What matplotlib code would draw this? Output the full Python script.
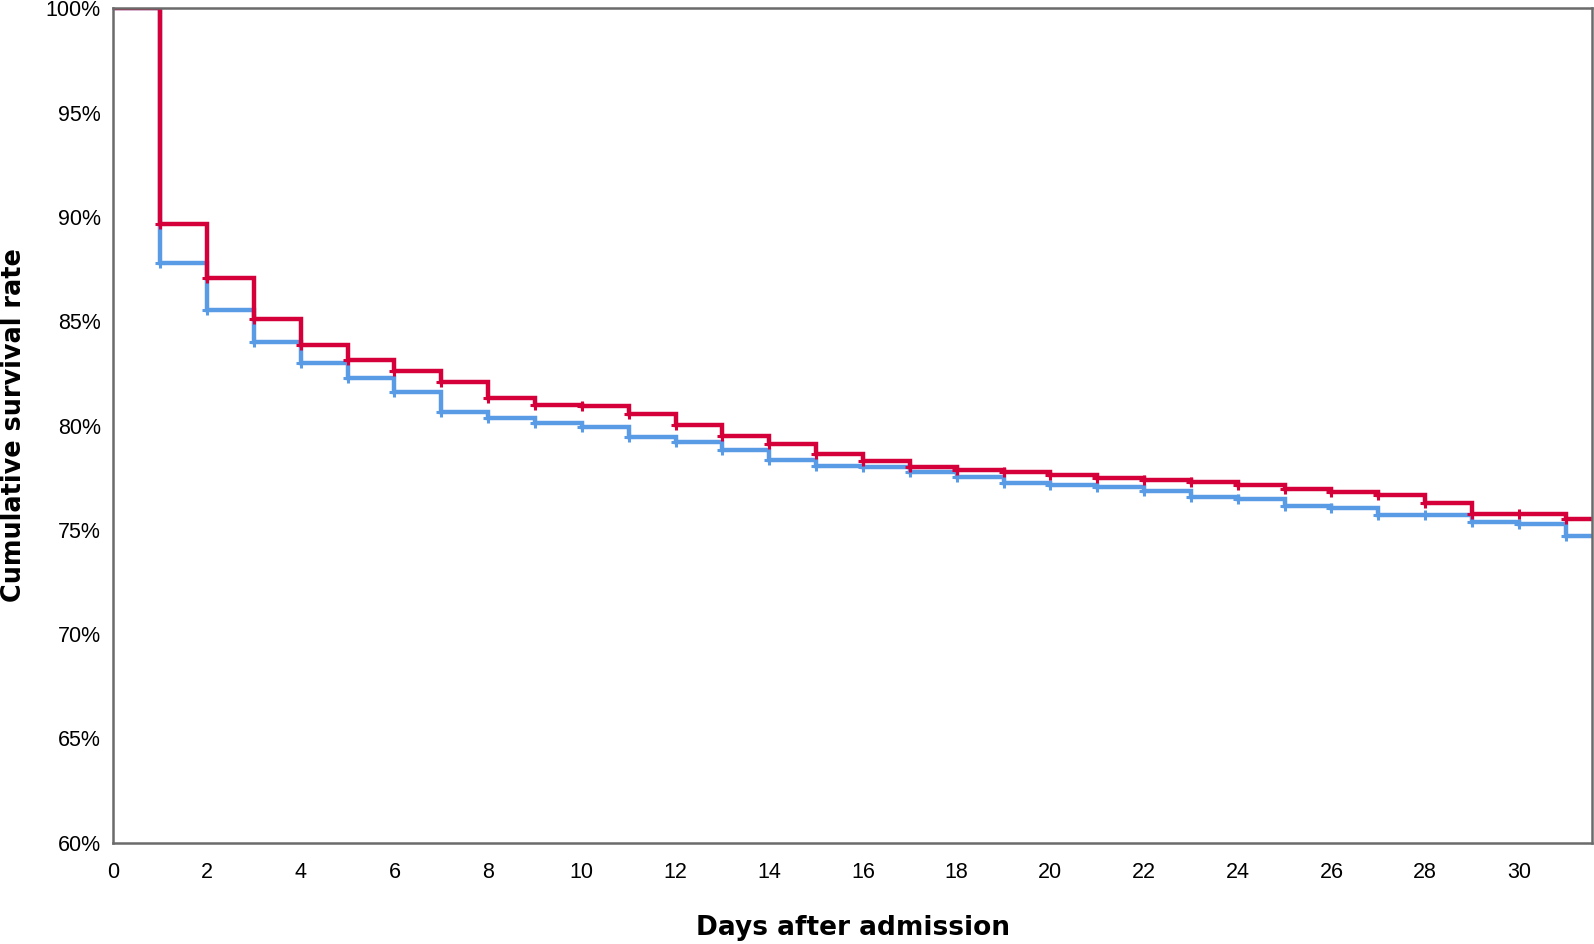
import matplotlib
matplotlib.use("Agg")
import matplotlib.pyplot as plt
from matplotlib.ticker import FuncFormatter

plt.rcParams['font.family'] = ['Liberation Sans', 'DejaVu Sans']

# Data (Kaplan-Meier cumulative survival, %)
days = list(range(0, 32))
survival_red = [100, 89.66, 87.05, 85.10, 83.86, 83.14, 82.61, 82.10, 81.30, 80.98,
                80.92, 80.56, 80.02, 79.50, 79.10, 78.63, 78.28, 78.01, 77.88, 77.79,
                77.61, 77.47, 77.39, 77.28, 77.14, 76.95, 76.83, 76.67, 76.30, 75.78,
                75.77, 75.53]
survival_blue = [100, 87.78, 85.54, 84.02, 82.98, 82.29, 81.62, 80.66, 80.36, 80.13,
                 79.92, 79.43, 79.20, 78.83, 78.37, 78.08, 78.01, 77.76, 77.52, 77.23,
                 77.17, 77.07, 76.88, 76.58, 76.50, 76.14, 76.03, 75.70, 75.70, 75.37,
                 75.29, 74.72]
x_ticks = list(range(0, 31, 2))
y_ticks = [60, 65, 70, 75, 80, 85, 90, 95, 100]

X_MAX = 31.56
RED = '#d5003a'
BLUE = '#5a9be6'

W, H = 1594, 944
fig = plt.figure(figsize=(W / 100, H / 100), dpi=100)
ax = fig.add_axes([113.3 / W, 1 - 842.7 / H, (1592 - 113.3) / W, (842.7 - 8.3) / H])

for vals, col in [(survival_blue, BLUE), (survival_red, RED)]:
    ax.step(days + [X_MAX], vals + [vals[-1]], where='post', color=col, lw=3.2,
            solid_joinstyle='miter', zorder=3)
    ax.plot(days[1:], vals[1:], linestyle='none', marker='+', markersize=7,
            markeredgewidth=2.2, color=col, zorder=4)

ax.set_xlim(0, X_MAX)
ax.set_ylim(60, 100)
ax.set_xticks(x_ticks)
ax.set_yticks(y_ticks)
ax.yaxis.set_major_formatter(FuncFormatter(lambda v, p: f"{int(v)}%"))
ax.tick_params(axis='both', length=0, labelsize=15.5, colors='black')
ax.tick_params(axis='y', pad=9)
ax.tick_params(axis='x', pad=14)

for side in ['left', 'bottom', 'top', 'right']:
    ax.spines[side].set_color('#6b6b6b')
    ax.spines[side].set_linewidth(1.8)
    ax.spines[side].set_zorder(5)

fig.text(852.6 / W, 1 - 935 / H, 'Days after admission', fontsize=19, fontweight='bold',
         family=['DejaVu Sans'], ha='center', va='baseline')
fig.text(14 / W, 1 - 425.5 / H, 'Cumulative survival rate', fontsize=18.4, fontweight='bold',
         family=['DejaVu Sans'], ha='center', va='center', rotation=90)

fig.savefig('out.png', dpi=100, facecolor='white')
